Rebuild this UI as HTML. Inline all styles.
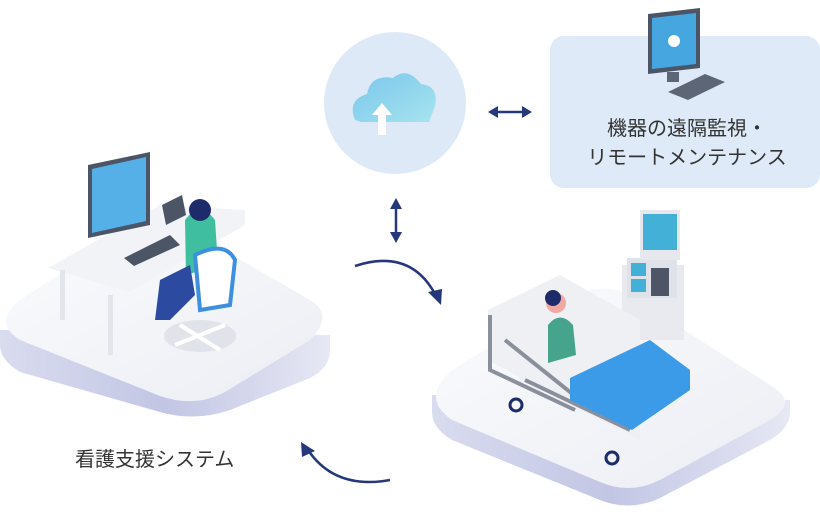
<!DOCTYPE html>
<html><head><meta charset="utf-8"><style>
body{margin:0;background:#fff;width:820px;height:526px;overflow:hidden;font-family:"Liberation Sans","Noto Sans CJK JP",sans-serif}
</style></head><body>
<svg width="820" height="526" viewBox="0 0 820 526" xmlns="http://www.w3.org/2000/svg">
<defs>
<linearGradient id="side" x1="0" y1="0" x2="1" y2="0"><stop offset="0" stop-color="#d9dcef"/><stop offset="0.5" stop-color="#c2c6e4"/><stop offset="1" stop-color="#e6e8f4"/></linearGradient>
<linearGradient id="top" x1="0" y1="0" x2="1" y2="1"><stop offset="0" stop-color="#fafbfd"/><stop offset="1" stop-color="#eceef4"/></linearGradient>
<linearGradient id="cl" x1="0" y1="0" x2="1" y2="1"><stop offset="0" stop-color="#7ac6ec"/><stop offset="1" stop-color="#a6e4ee"/></linearGradient>
</defs>
<rect x="550" y="36" width="270" height="152" rx="14" fill="#deeaf7"/>
<text x="687" y="135" font-size="20" fill="#333" text-anchor="middle">機器の遠隔監視・</text>
<text x="687" y="164" font-size="20" fill="#333" text-anchor="middle">リモートメンテナンス</text>
<polygon points="648,14 700,8 700,68 648,74" fill="#4c5566"/>
<polygon points="652,18 696,13 696,64 652,69" fill="#46a7e0"/>
<circle cx="674" cy="41" r="6" fill="#fff"/>
<rect x="667" y="72" width="12" height="10" fill="#5d6676"/>
<polygon points="668,92 705,74 725,82 688,100" fill="#5d6676"/>
<circle cx="395" cy="103" r="71" fill="#dde9f7"/>
<path d="M355 120 q-8-20 12-26 q4-20 26-16 q14-12 28 6 q18 2 14 22 l-6 16 l-68 0z" fill="url(#cl)"/>
<path d="M378 135 l0 -20 l-6 0 l10-12 l10 12 l-6 0 l0 20z" fill="#fff"/>
<g stroke="#253879" stroke-width="2.5" fill="#253879">
<line x1="494" y1="112" x2="526" y2="112"/>
<polygon points="488,112 498,106 498,118" stroke="none"/><polygon points="532,112 522,106 522,118" stroke="none"/>
<line x1="396" y1="205" x2="396" y2="236"/>
<polygon points="396,198 390,209 402,209" stroke="none"/><polygon points="396,243 390,232 402,232" stroke="none"/>
<path d="M355 266 q55-18 80 28" fill="none"/>
<polygon points="441,305 428,292 442,289" stroke="none"/>
<path d="M390 480 q-55 10-82-30" fill="none"/>
<polygon points="301,442 315,451 302,457" stroke="none"/>
</g>
<path d="M0 330 L0 345 Q0 360 20 372 L160 412 Q195 422 230 410 L310 378 Q330 368 330 350 L330 335 Z" fill="url(#side)"/>
<path d="M20 300 L130 228 Q150 216 175 222 L310 300 Q335 315 310 340 L225 392 Q195 408 160 396 L20 340 Q-8 322 20 300Z" fill="url(#top)"/>
<polygon points="48,268 160,205 245,210 245,225 130,292" fill="#f2f3f7"/>
<rect x="60" y="270" width="5" height="50" fill="#e3e5ec"/><rect x="108" y="295" width="5" height="60" fill="#e3e5ec"/>
<polygon points="88,165 150,152 150,225 88,238" fill="#4c5566"/>
<polygon points="92,169 146,157 146,221 92,233" fill="#54b0e6"/>
<polygon points="124,258 170,235 180,245 134,266" fill="#4c5566"/>
<polygon points="162,205 182,195 186,215 166,225" fill="#4c5566"/>
<path d="M185 220 q15-20 30 0 l3 45 l-32 10z" fill="#3fbf9f"/>
<circle cx="200" cy="210" r="11" fill="#1d2b6b"/>
<path d="M160 280 l30 -15 l5 30 l-25 25 l-15 0z" fill="#2b4aa0"/>
<path d="M195 255 q30 -15 40 5 l-5 45 l-30 5z" fill="#fff" stroke="#3d8fe0" stroke-width="4"/>
<ellipse cx="200" cy="336" rx="36" ry="16" fill="#e1e3ea"/>
<path d="M175 345 l50 -20 M180 325 l40 25" stroke="#fff" stroke-width="4"/>
<text x="75" y="466" font-size="20" fill="#333">看護支援システム</text>
<path d="M432 395 L432 412 Q432 428 452 440 L600 500 Q630 512 660 498 L770 440 Q790 428 790 412 L790 400 Z" fill="url(#side)"/>
<path d="M452 370 L570 298 Q595 283 625 292 L770 385 Q800 402 770 420 L660 480 Q630 495 600 482 L452 420 Q420 398 452 370Z" fill="url(#top)"/>
<rect x="622" y="265" width="62" height="75" fill="#e8eaf0"/>
<rect x="627" y="258" width="50" height="40" fill="#dfe2e9"/>
<rect x="631" y="263" width="15" height="13" fill="#43b0d8"/><rect x="631" y="279" width="15" height="13" fill="#43b0d8"/>
<rect x="651" y="268" width="18" height="28" fill="#4d5566"/>
<rect x="640" y="210" width="40" height="50" fill="#e6e8ee"/>
<rect x="643" y="214" width="34" height="36" fill="#43b0d8"/>
<polygon points="488,310 560,275 640,320 640,440 580,410 488,360" fill="#eef0f4"/>
<path d="M490 315 L490 370 L575 410 M505 340 L580 400 M525 380 L630 430" stroke="#8a8f9c" stroke-width="4" fill="none"/>
<polygon points="570,378 650,340 690,370 690,390 632,430 570,400" fill="#3c9be8"/>
<path d="M548 325 q12-15 25 0 l3 30 l-28 8z" fill="#46a38c"/>
<circle cx="556" cy="303" r="10" fill="#f0a8a0"/>
<circle cx="553" cy="298" r="8" fill="#1d2b6b"/>
<circle cx="516" cy="405" r="6" fill="none" stroke="#1d2b6b" stroke-width="3"/>
<circle cx="612" cy="458" r="6" fill="none" stroke="#1d2b6b" stroke-width="3"/>
</svg>
</body></html>
